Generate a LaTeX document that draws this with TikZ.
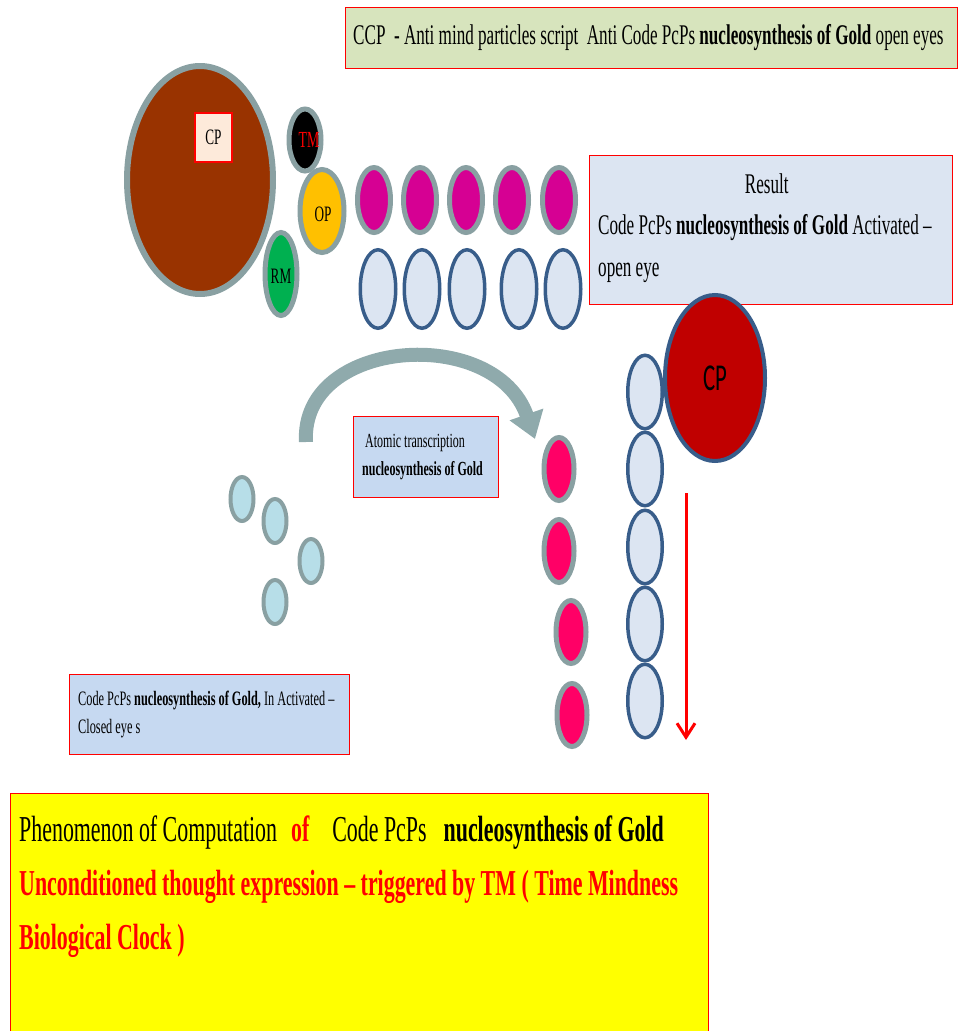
\documentclass[tikz,border=0pt]{standalone}
\usepackage{fontspec}
\setmainfont[FakeStretch=0.6]{Liberation Serif}
\newfontfamily\calfont[FakeStretch=0.6]{Carlito}
\usetikzlibrary{shapes.geometric,arrows.meta}
\definecolor{ringgray}{RGB}{137,160,162}
\definecolor{ringblue}{RGB}{56,93,138}
\definecolor{paleblue}{RGB}{220,229,242}
\definecolor{boxblue}{RGB}{198,217,241}
\definecolor{topgreen}{RGB}{215,228,189}
\definecolor{cpbox}{RGB}{253,234,218}
\definecolor{brown}{RGB}{153,51,0}
\definecolor{darkred}{RGB}{192,0,0}
\definecolor{magentafill}{RGB}{214,0,147}
\definecolor{pinkfill}{RGB}{255,0,102}
\definecolor{tealfill}{RGB}{183,222,232}
\definecolor{opfill}{RGB}{255,192,0}
\definecolor{rmfill}{RGB}{0,176,80}
\definecolor{arcgray}{RGB}{143,170,172}
\definecolor{pureyellow}{RGB}{255,255,0}
\definecolor{purered}{RGB}{255,0,0}
\begin{document}
\begin{tikzpicture}[x=1pt,y=-1pt,
  grayring/.style={ellipse, draw=ringgray, line width=5pt, inner sep=0pt},
  bluering/.style={ellipse, draw=ringblue, line width=3.5pt, fill=paleblue, inner sep=0pt},
  magball/.style={grayring, fill=magentafill, minimum width=33pt, minimum height=65pt},
  blueball/.style={bluering, minimum width=35.5pt, minimum height=78.5pt},
  chainball/.style={bluering, minimum width=34.5pt, minimum height=73.5pt},
  pinkball/.style={grayring, fill=pinkfill, minimum width=30pt, minimum height=63pt},
  tealball/.style={grayring, line width=4pt, fill=tealfill, minimum width=23pt, minimum height=44pt},
  boxframe/.style={draw=purered, line width=1pt, anchor=north west, inner sep=0pt},
  boxtext/.style={anchor=west, inner sep=0pt, align=left},
  lbl/.style={inner sep=0pt, font=\fontsize{22}{24}\selectfont}
]
\useasboundingbox (0,0) rectangle (959,1031);
\clip (0,0) rectangle (959,1031);

% top title box
\node[boxframe, fill=topgreen, minimum width=612pt, minimum height=61pt] (title) at (345,7) {};
\node[boxtext, font=\fontsize{28.5}{34}\selectfont] (titletext) at (353,38)
  {CCP\ \ - Anti mind particles script\ \ Anti Code PcPs \textbf{nucleosynthesis of Gold} open eyes};

% left cluster
\node[grayring, line width=6pt, fill=brown, minimum width=146pt, minimum height=228pt] (bigcp) at (200,180) {};
\node[draw=purered, line width=1.2pt, fill=cpbox, minimum width=37pt, minimum height=49pt, inner sep=0pt,
  font=\fontsize{22}{24}\selectfont] (cplabel) at (213.5,137.5) {CP};
\node[grayring, fill=black, minimum width=32pt, minimum height=62pt] (tm) at (305,140) {};
\node[lbl, text=purered, font=\fontsize{23}{24}\selectfont] at (309,140) {TM};
\node[grayring, fill=opfill, minimum width=44pt, minimum height=83pt] (op) at (322,211) {};
\node[lbl] at (323,214) {OP};
\node[grayring, fill=rmfill, minimum width=32pt, minimum height=83pt] (rm) at (281,274) {};
\node[lbl] at (281,276) {RM};

% magenta row
\foreach \x [count=\i] in {374,420,466,512,559}
  \node[magball] (m\i) at (\x,200) {};
% blue row
\foreach \x [count=\i] in {378,422,467,519,563}
  \node[blueball] (b\i) at (\x,289) {};

% result box
\node[boxframe, fill=paleblue, minimum width=363pt, minimum height=149pt] (result) at (589,155) {};
\node[boxtext, font=\fontsize{28.5}{41.5}\selectfont] (resulttext) at (598,228)
  {\makebox[337pt]{Result}\\Code PcPs \textbf{nucleosynthesis of Gold} Activated --\\open eye};

% vertical chain
\foreach \y [count=\i] in {392,469,547,624,701}
  \node[chainball] (c\i) at (645,\y) {};
% right CP
\node[ellipse, draw=ringblue, line width=4pt, fill=darkred, minimum width=100pt, minimum height=166pt,
  inner sep=0pt, font=\calfont\fontsize{38}{40}\selectfont] (rcp) at (715,378) {CP};

% red arrow
\coordinate (ra1) at (686,493);
\coordinate (ra2) at (686,740);
\draw[purered, line width=3pt, -{Straight Barb[length=14pt,width=18pt,line width=3pt]}] (ra1) -- (ra2);

% curved arrow
\coordinate (arcS) at (306,442);
\coordinate (arcE) at (535,439);
\draw[arcgray, line width=14pt, -{Triangle[width=34pt,length=26pt]}] (arcS) .. controls (300,338) and (495,324) .. (arcE);

% atomic transcription box
\node[boxframe, fill=boxblue, minimum width=145pt, minimum height=81pt] (atomic) at (353,416) {};
\node[boxtext, font=\fontsize{20}{28}\selectfont] (atomictext) at (362,457)
  {\hspace*{3pt}Atomic transcription\\\textbf{nucleosynthesis of Gold}};

% pink balls
\node[pinkball] (p1) at (559,469) {};
\node[pinkball] (p2) at (559,551) {};
\node[pinkball] (p3) at (571,632) {};
\node[pinkball] (p4) at (572,715) {};

% teal balls
\node[tealball] (t1) at (242,499) {};
\node[tealball] (t2) at (275,521) {};
\node[tealball] (t3) at (311,561) {};
\node[tealball] (t4) at (275,602) {};

% closed eye box
\node[boxframe, fill=boxblue, minimum width=280pt, minimum height=80pt] (closed) at (69,674) {};
\node[boxtext, font=\fontsize{20.5}{28}\selectfont] (closedtext) at (78,714)
  {Code PcPs \textbf{nucleosynthesis of Gold,} In Activated --\\Closed eye s};

% bottom yellow box
\node[boxframe, fill=pureyellow, minimum width=698pt, minimum height=250pt] (bottom) at (10,793) {};
\node[anchor=north west, inner sep=0pt, align=left,
  font=\fontsize{36.5}{54}\selectfont] (bottomtext) at (19,816)
  {Phenomenon of Computation\hspace{14pt}\textbf{\textcolor{purered}{of}}\hspace{23pt}Code PcPs\hspace{17pt}\textbf{nucleosynthesis of Gold}\\
   \color{purered}\bfseries Unconditioned thought expression -- triggered by TM ( Time Mindness\\
   \color{purered}\bfseries Biological Clock )};
\end{tikzpicture}
\end{document}
